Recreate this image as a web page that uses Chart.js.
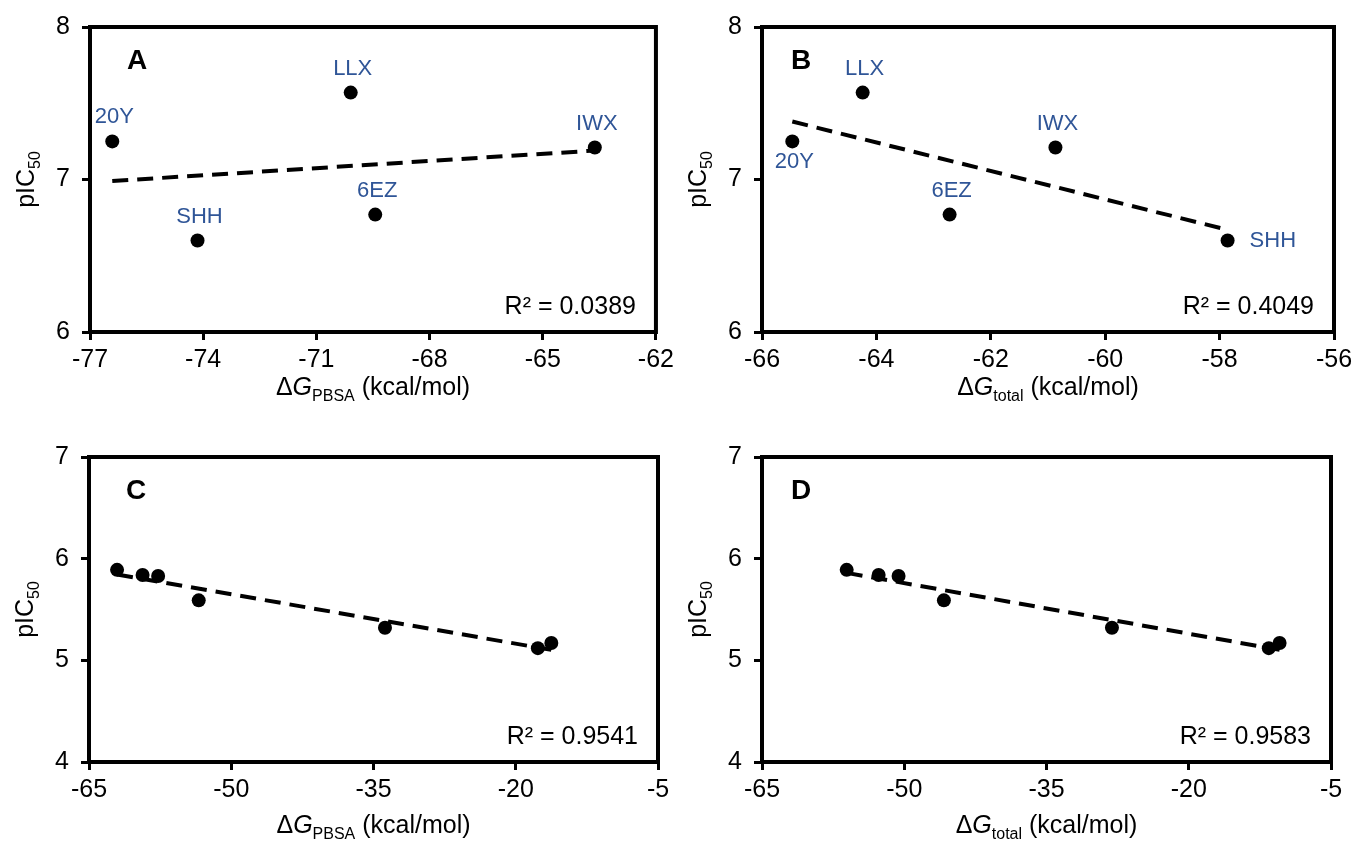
<!DOCTYPE html>
<html>
<head>
<meta charset="utf-8">
<script src="https://cdn.jsdelivr.net/npm/chart.js@4.4.0/dist/chart.umd.min.js"></script>
<style>
  html, body { margin: 0; padding: 0; background: #fff; }
  #wrap { position: relative; width: 1358px; height: 847px; overflow: hidden; }
  .panel { position: absolute; }
</style>
</head>
<body>
<div id="wrap">
  <div class="panel" style="left:0px;top:0px"><canvas id="chartA"></canvas></div>
  <div class="panel" style="left:679px;top:0px"><canvas id="chartB"></canvas></div>
  <div class="panel" style="left:0px;top:420px"><canvas id="chartC"></canvas></div>
  <div class="panel" style="left:679px;top:420px"><canvas id="chartD"></canvas></div>
</div>
<script>
// top row: five ligands
const ligands = ['20Y', 'SHH', 'LLX', '6EZ', 'IWX'];
const pic50Top = [7.25, 6.60, 7.57, 6.77, 7.21];
const dgPbsaTop = [-76.41, -74.15, -70.09, -69.44, -63.62];
const dgTotalTop = [-65.47, -57.86, -64.24, -62.72, -60.87];

// bottom row: seven compounds
const pic50Bottom = [5.89, 5.84, 5.83, 5.59, 5.32, 5.12, 5.17];
const dgPbsaBottom = [-62.04, -59.35, -57.71, -53.43, -33.79, -17.67, -16.25];
const dgTotalBottom = [-56.07, -52.70, -50.60, -45.82, -28.10, -11.56, -10.42];

// trendline end points (x pair, y pair)
const trendAx = [-76.41, -63.62], trendAy = [6.99, 7.19];
const trendBx = [-65.47, -57.86], trendBy = [7.38, 6.67];
const trendCx = [-62.04, -16.25], trendCy = [5.845, 5.103];
const trendDx = [-56.07, -10.42], trendDy = [5.86, 5.103];

const r2Labels = ['R\u00B2 = 0.0389', 'R\u00B2 = 0.4049', 'R\u00B2 = 0.9541', 'R\u00B2 = 0.9583'];

const FONT = '"Liberation Sans", Arial, sans-serif';
const LABEL_BLUE = '#2F5597';

Chart.defaults.font.family = FONT;
Chart.defaults.color = '#000';

function pairs(xs, ys) {
    return xs.map((x, i) => ({ x: x, y: ys[i] }));
}

function drawRich(ctx, parts, size) {
    // parts: [text, kind] kind: '' | 'i' | 'sub'
    let w = 0;
    const items = parts.map(([t, kind]) => {
        const fs = kind === 'sub' ? Math.round(size * 0.62) : size;
        const font = (kind === 'i' ? 'italic ' : '') + fs + 'px ' + FONT;
        ctx.font = font;
        const tw = ctx.measureText(t).width;
        w += tw;
        return { t, font, tw, dy: kind === 'sub' ? size * 0.22 : 0 };
    });
    return { w, items };
}

function fillRich(ctx, rich, x, y) {
    let cx = x;
    rich.items.forEach(it => {
        ctx.font = it.font;
        ctx.fillText(it.t, cx, y + it.dy);
        cx += it.tw;
    });
}

const panelDecor = {
    id: 'panelDecor',
    afterDraw(chart, args, opts) {
        const { ctx, chartArea: a } = chart;
        const xs = chart.scales.x, ys = chart.scales.y;
        ctx.save();

        // frame
        ctx.strokeStyle = '#000';
        ctx.lineWidth = 4;
        ctx.strokeRect(a.left, a.top, a.right - a.left, a.bottom - a.top);

        ctx.fillStyle = '#000';
        ctx.textBaseline = 'alphabetic';

        // panel letter
        ctx.font = 'bold 28px ' + FONT;
        ctx.textAlign = 'center';
        ctx.fillText(opts.letter, a.left + opts.letterDx, a.top + 42);

        // R squared
        ctx.font = '25px ' + FONT;
        ctx.textAlign = 'right';
        ctx.fillText(opts.r2, a.right - 20, a.bottom - 18);

        // point labels
        if (opts.names) {
            ctx.font = '22px ' + FONT;
            ctx.fillStyle = LABEL_BLUE;
            opts.names.forEach((name, i) => {
                const px = xs.getPixelForValue(opts.px[i]);
                const py = ys.getPixelForValue(opts.py[i]);
                const where = opts.place[i];
                ctx.textBaseline = 'middle';
                if (where === 'right') {
                    ctx.textAlign = 'left';
                    ctx.fillText(name, px + 22, py);
                } else if (where === 'below') {
                    ctx.textAlign = 'center';
                    ctx.fillText(name, px + 2, py + 21);
                } else {
                    ctx.textAlign = 'center';
                    ctx.fillText(name, px + 2, py - 24);
                }
            });
        }

        // axis titles
        ctx.fillStyle = '#000';
        ctx.textAlign = 'left';
        ctx.textBaseline = 'alphabetic';
        const xr = drawRich(ctx, [['\u0394', ''], ['G', 'i'], [opts.sub, 'sub'], [' (kcal/mol)', '']], 25);
        fillRich(ctx, xr, (a.left + a.right) / 2 - xr.w / 2, a.bottom + opts.titleDy);

        const yr = drawRich(ctx, [['pIC', ''], ['50', 'sub']], 25);
        ctx.translate(a.left - 56, (a.top + a.bottom) / 2);
        ctx.rotate(-Math.PI / 2);
        fillRich(ctx, yr, -yr.w / 2, 0);

        ctx.restore();
    }
};

function makePanel(id, box, d) {
    const canvas = document.getElementById(id);
    canvas.width = box.w;
    canvas.height = box.h;
    canvas.style.width = box.w + 'px';
    canvas.style.height = box.h + 'px';

    const tickFont = { size: 25 };
    const gridOpts = {
        display: true,
        drawOnChartArea: false,
        drawTicks: true,
        tickLength: 8,
        color: '#000',
        lineWidth: 3
    };

    return new Chart(canvas, {
        type: 'scatter',
        data: {
            datasets: [
                {
                    data: pairs(d.x, d.y),
                    backgroundColor: '#000',
                    borderColor: '#000',
                    borderWidth: 0,
                    pointRadius: 7
                },
                {
                    data: pairs(d.tx, d.ty),
                    showLine: true,
                    borderColor: '#000',
                    borderWidth: 4,
                    borderDash: [16, 9],
                    pointRadius: 0,
                    fill: false
                }
            ]
        },
        options: {
            responsive: false,
            animation: false,
            devicePixelRatio: 1,
            layout: {
                padding: { left: 0, top: box.top, right: box.w - box.right, bottom: 0 }
            },
            plugins: {
                legend: { display: false },
                tooltip: { enabled: false },
                panelDecor: {
                    letter: d.letter,
                    letterDx: d.letterDx,
                    r2: d.r2,
                    sub: d.sub,
                    titleDy: d.titleDy,
                    names: d.names,
                    px: d.x,
                    py: d.y,
                    place: d.place
                }
            },
            scales: {
                x: {
                    type: 'linear',
                    min: d.xMin,
                    max: d.xMax,
                    grid: gridOpts,
                    border: { display: false },
                    ticks: { stepSize: d.xStep, font: tickFont, color: '#000', padding: 5, maxRotation: 0, autoSkip: false },
                    afterFit: (s) => { s.height = box.h - box.bottom; }
                },
                y: {
                    type: 'linear',
                    min: d.yMin,
                    max: d.yMax,
                    grid: gridOpts,
                    border: { display: false },
                    ticks: { stepSize: 1, font: tickFont, color: '#000', padding: 12 },
                    afterFit: (s) => { s.width = box.left; }
                }
            }
        },
        plugins: [panelDecor]
    });
}

makePanel('chartA', { w: 679, h: 420, left: 90, top: 26, right: 659, bottom: 332 }, {
    x: dgPbsaTop, y: pic50Top, tx: trendAx, ty: trendAy,
    xMin: -77, xMax: -62, xStep: 3, yMin: 6, yMax: 8,
    letter: 'A', letterDx: 47, r2: r2Labels[0], sub: 'PBSA', titleDy: 63,
    names: ligands, place: ['above', 'above', 'above', 'above', 'above']
});

makePanel('chartB', { w: 679, h: 420, left: 83, top: 26, right: 655, bottom: 332 }, {
    x: dgTotalTop, y: pic50Top, tx: trendBx, ty: trendBy,
    xMin: -66, xMax: -56, xStep: 2, yMin: 6, yMax: 8,
    letter: 'B', letterDx: 39, r2: r2Labels[1], sub: 'total', titleDy: 63,
    names: ligands, place: ['below', 'right', 'above', 'above', 'above']
});

makePanel('chartC', { w: 679, h: 427, left: 89, top: 37, right: 658, bottom: 342 }, {
    x: dgPbsaBottom, y: pic50Bottom, tx: trendCx, ty: trendCy,
    xMin: -65, xMax: -5, xStep: 15, yMin: 4, yMax: 7,
    letter: 'C', letterDx: 47, r2: r2Labels[2], sub: 'PBSA', titleDy: 71
});

makePanel('chartD', { w: 679, h: 427, left: 83, top: 37, right: 652, bottom: 342 }, {
    x: dgTotalBottom, y: pic50Bottom, tx: trendDx, ty: trendDy,
    xMin: -65, xMax: -5, xStep: 15, yMin: 4, yMax: 7,
    letter: 'D', letterDx: 39, r2: r2Labels[3], sub: 'total', titleDy: 71
});
</script>
</body>
</html>
